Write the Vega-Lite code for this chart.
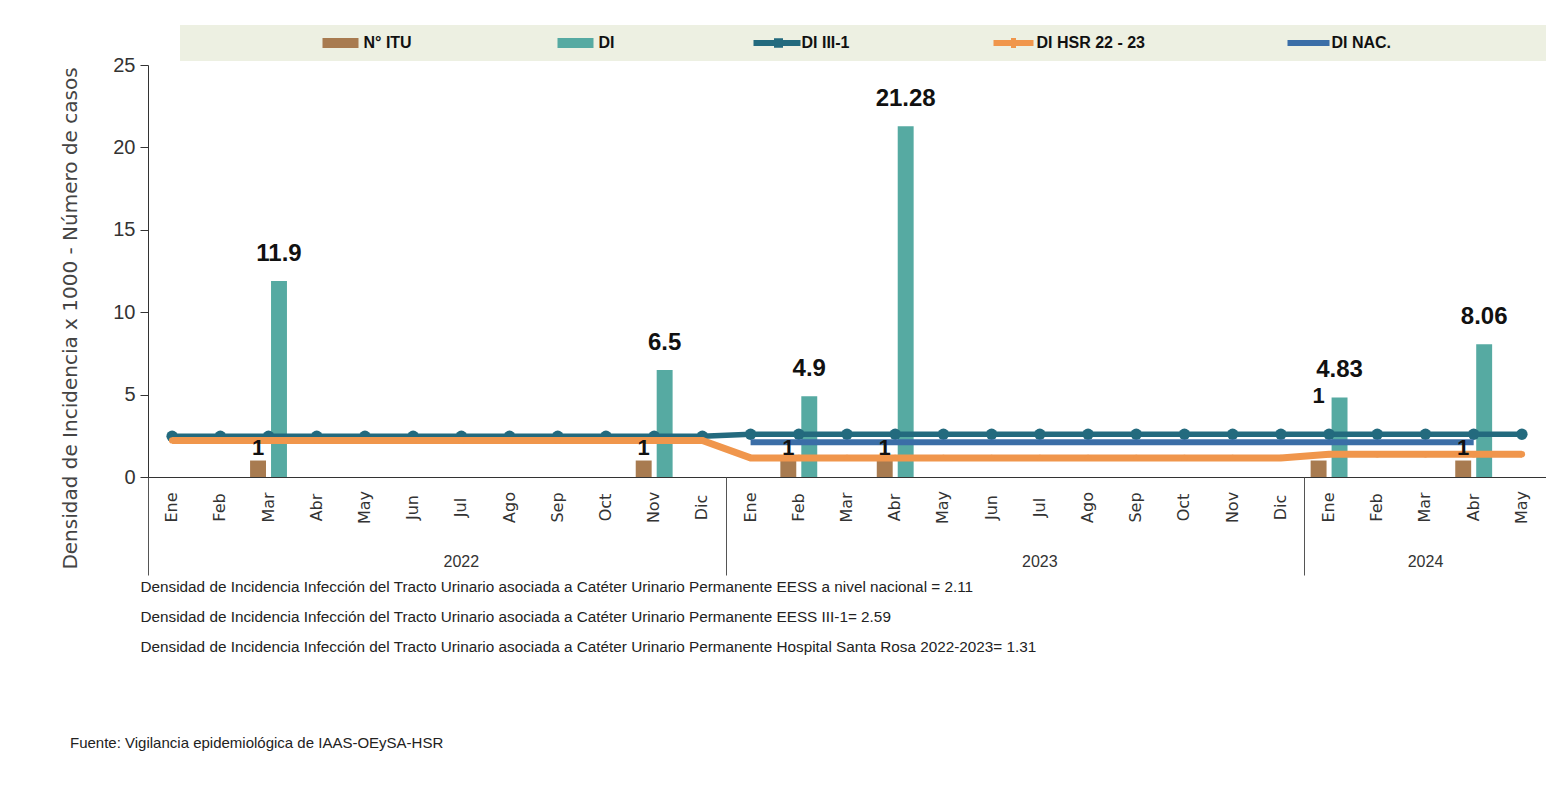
{
  "$schema": "https://vega.github.io/schema/vega-lite/v6.json",
  "width": 1398,
  "height": 412,
  "autosize": {"type": "none"},
  "padding": {"left": 148, "top": 65, "right": 0, "bottom": 312},
  "background": "white",
  "title": {
    "text": "Fuente: Vigilancia epidemiológica de IAAS-OEySA-HSR",
    "orient": "bottom", "anchor": "start", "frame": "group", "dx": -78, "offset": 82,
    "font": "Liberation Sans Narrow, Arial Narrow, Liberation Sans, sans-serif",
    "fontSize": 15, "fontWeight": "normal", "color": "#222"
  },
  "data": {
    "values": [
      {"mes": "Ene 2022", "serie": "DI III-1", "valor": 2.47},
      {"mes": "Feb 2022", "serie": "DI III-1", "valor": 2.47},
      {"mes": "Mar 2022", "serie": "DI III-1", "valor": 2.47},
      {"mes": "Abr 2022", "serie": "DI III-1", "valor": 2.47},
      {"mes": "May 2022", "serie": "DI III-1", "valor": 2.47},
      {"mes": "Jun 2022", "serie": "DI III-1", "valor": 2.47},
      {"mes": "Jul 2022", "serie": "DI III-1", "valor": 2.47},
      {"mes": "Ago 2022", "serie": "DI III-1", "valor": 2.47},
      {"mes": "Sep 2022", "serie": "DI III-1", "valor": 2.47},
      {"mes": "Oct 2022", "serie": "DI III-1", "valor": 2.47},
      {"mes": "Nov 2022", "serie": "DI III-1", "valor": 2.47},
      {"mes": "Dic 2022", "serie": "DI III-1", "valor": 2.47},
      {"mes": "Ene 2023", "serie": "DI III-1", "valor": 2.59},
      {"mes": "Feb 2023", "serie": "DI III-1", "valor": 2.59},
      {"mes": "Mar 2023", "serie": "DI III-1", "valor": 2.59},
      {"mes": "Abr 2023", "serie": "DI III-1", "valor": 2.59},
      {"mes": "May 2023", "serie": "DI III-1", "valor": 2.59},
      {"mes": "Jun 2023", "serie": "DI III-1", "valor": 2.59},
      {"mes": "Jul 2023", "serie": "DI III-1", "valor": 2.59},
      {"mes": "Ago 2023", "serie": "DI III-1", "valor": 2.59},
      {"mes": "Sep 2023", "serie": "DI III-1", "valor": 2.59},
      {"mes": "Oct 2023", "serie": "DI III-1", "valor": 2.59},
      {"mes": "Nov 2023", "serie": "DI III-1", "valor": 2.59},
      {"mes": "Dic 2023", "serie": "DI III-1", "valor": 2.59},
      {"mes": "Ene 2024", "serie": "DI III-1", "valor": 2.59},
      {"mes": "Feb 2024", "serie": "DI III-1", "valor": 2.59},
      {"mes": "Mar 2024", "serie": "DI III-1", "valor": 2.59},
      {"mes": "Abr 2024", "serie": "DI III-1", "valor": 2.59},
      {"mes": "May 2024", "serie": "DI III-1", "valor": 2.59},
      {"mes": "Ene 2022", "serie": "DI HSR 22 - 23", "valor": 2.22},
      {"mes": "Feb 2022", "serie": "DI HSR 22 - 23", "valor": 2.22},
      {"mes": "Mar 2022", "serie": "DI HSR 22 - 23", "valor": 2.22},
      {"mes": "Abr 2022", "serie": "DI HSR 22 - 23", "valor": 2.22},
      {"mes": "May 2022", "serie": "DI HSR 22 - 23", "valor": 2.22},
      {"mes": "Jun 2022", "serie": "DI HSR 22 - 23", "valor": 2.22},
      {"mes": "Jul 2022", "serie": "DI HSR 22 - 23", "valor": 2.22},
      {"mes": "Ago 2022", "serie": "DI HSR 22 - 23", "valor": 2.22},
      {"mes": "Sep 2022", "serie": "DI HSR 22 - 23", "valor": 2.22},
      {"mes": "Oct 2022", "serie": "DI HSR 22 - 23", "valor": 2.22},
      {"mes": "Nov 2022", "serie": "DI HSR 22 - 23", "valor": 2.22},
      {"mes": "Dic 2022", "serie": "DI HSR 22 - 23", "valor": 2.22},
      {"mes": "Ene 2023", "serie": "DI HSR 22 - 23", "valor": 1.16},
      {"mes": "Feb 2023", "serie": "DI HSR 22 - 23", "valor": 1.16},
      {"mes": "Mar 2023", "serie": "DI HSR 22 - 23", "valor": 1.16},
      {"mes": "Abr 2023", "serie": "DI HSR 22 - 23", "valor": 1.16},
      {"mes": "May 2023", "serie": "DI HSR 22 - 23", "valor": 1.16},
      {"mes": "Jun 2023", "serie": "DI HSR 22 - 23", "valor": 1.16},
      {"mes": "Jul 2023", "serie": "DI HSR 22 - 23", "valor": 1.16},
      {"mes": "Ago 2023", "serie": "DI HSR 22 - 23", "valor": 1.16},
      {"mes": "Sep 2023", "serie": "DI HSR 22 - 23", "valor": 1.16},
      {"mes": "Oct 2023", "serie": "DI HSR 22 - 23", "valor": 1.16},
      {"mes": "Nov 2023", "serie": "DI HSR 22 - 23", "valor": 1.16},
      {"mes": "Dic 2023", "serie": "DI HSR 22 - 23", "valor": 1.16},
      {"mes": "Ene 2024", "serie": "DI HSR 22 - 23", "valor": 1.38},
      {"mes": "Feb 2024", "serie": "DI HSR 22 - 23", "valor": 1.38},
      {"mes": "Mar 2024", "serie": "DI HSR 22 - 23", "valor": 1.38},
      {"mes": "Abr 2024", "serie": "DI HSR 22 - 23", "valor": 1.38},
      {"mes": "May 2024", "serie": "DI HSR 22 - 23", "valor": 1.38},
      {"mes": "Ene 2023", "serie": "DI NAC.", "valor": 2.11},
      {"mes": "Feb 2023", "serie": "DI NAC.", "valor": 2.11},
      {"mes": "Mar 2023", "serie": "DI NAC.", "valor": 2.11},
      {"mes": "Abr 2023", "serie": "DI NAC.", "valor": 2.11},
      {"mes": "May 2023", "serie": "DI NAC.", "valor": 2.11},
      {"mes": "Jun 2023", "serie": "DI NAC.", "valor": 2.11},
      {"mes": "Jul 2023", "serie": "DI NAC.", "valor": 2.11},
      {"mes": "Ago 2023", "serie": "DI NAC.", "valor": 2.11},
      {"mes": "Sep 2023", "serie": "DI NAC.", "valor": 2.11},
      {"mes": "Oct 2023", "serie": "DI NAC.", "valor": 2.11},
      {"mes": "Nov 2023", "serie": "DI NAC.", "valor": 2.11},
      {"mes": "Dic 2023", "serie": "DI NAC.", "valor": 2.11},
      {"mes": "Ene 2024", "serie": "DI NAC.", "valor": 2.11},
      {"mes": "Feb 2024", "serie": "DI NAC.", "valor": 2.11},
      {"mes": "Mar 2024", "serie": "DI NAC.", "valor": 2.11},
      {"mes": "Abr 2024", "serie": "DI NAC.", "valor": 2.11},
      {"mes": "Mar 2022", "serie": "N° ITU", "valor": 1},
      {"mes": "Nov 2022", "serie": "N° ITU", "valor": 1},
      {"mes": "Feb 2023", "serie": "N° ITU", "valor": 1},
      {"mes": "Abr 2023", "serie": "N° ITU", "valor": 1},
      {"mes": "Ene 2024", "serie": "N° ITU", "valor": 1},
      {"mes": "Abr 2024", "serie": "N° ITU", "valor": 1},
      {"mes": "Mar 2022", "serie": "DI", "valor": 11.9},
      {"mes": "Nov 2022", "serie": "DI", "valor": 6.5},
      {"mes": "Feb 2023", "serie": "DI", "valor": 4.9},
      {"mes": "Abr 2023", "serie": "DI", "valor": 21.28},
      {"mes": "Ene 2024", "serie": "DI", "valor": 4.83},
      {"mes": "Abr 2024", "serie": "DI", "valor": 8.06}
    ]
  },
  "encoding": {
    "x": {
      "field": "mes", "type": "nominal", "sort": null,
      "scale": {"domain": ["Ene 2022","Feb 2022","Mar 2022","Abr 2022","May 2022","Jun 2022","Jul 2022","Ago 2022","Sep 2022","Oct 2022","Nov 2022","Dic 2022","Ene 2023","Feb 2023","Mar 2023","Abr 2023","May 2023","Jun 2023","Jul 2023","Ago 2023","Sep 2023","Oct 2023","Nov 2023","Dic 2023","Ene 2024","Feb 2024","Mar 2024","Abr 2024","May 2024"], "paddingInner": 0, "paddingOuter": 0},
      "axis": {
        "title": null, "labelExpr": "split(datum.label, ' ')[0]",
        "labelAngle": -90, "labelAlign": "center", "labelBaseline": "middle", "labelPadding": 30,
        "ticks": false, "tickSize": 0, "domainColor": "#333", "domainWidth": 1,
        "labelFont": "DejaVu Sans", "labelFontSize": 16, "labelColor": "#333", "grid": false
      }
    },
    "y": {
      "field": "valor", "type": "quantitative",
      "scale": {"domain": [0, 25], "nice": false},
      "axis": {
        "values": [0, 5, 10, 15, 20, 25], "grid": false,
        "title": "Densidad de Incidencia x 1000 - Número de casos",
        "titleX": -78, "titleY": 253, "titleBaseline": "middle", "titleAlign": "center",
        "titleFont": "DejaVu Sans", "titleFontSize": 20, "titleFontWeight": "normal", "titleColor": "#444",
        "labelFont": "Liberation Sans Narrow, Liberation Sans, sans-serif",
        "labelFontSize": 20, "labelColor": "#333", "labelPadding": 5,
        "tickSize": 8, "tickColor": "#333", "domainColor": "#333"
      }
    },
    "color": {
      "field": "serie", "type": "nominal",
      "scale": {
        "domain": ["N° ITU", "DI", "DI III-1", "DI HSR 22 - 23", "DI NAC."],
        "range": ["#A87B50", "#56AAA2", "#236A7E", "#F0964C", "#3B6EA7"]
      },
      "legend": {
        "orient": "none", "legendX": 32, "legendY": -40, "direction": "horizontal",
        "fillColor": "#EDF0E2", "padding": 10,
        "title": "\u00a0", "titleOrient": "left", "titlePadding": 125, "titleFontSize": 10,
        "symbolSize": 100, "symbolOffset": 17.5, "labelOffset": 15, "columnPadding": 138,
        "symbolOpacity": 1, "symbolStrokeWidth": 0, "labelLimit": 400,
        "labelFont": "Liberation Sans Narrow, Arial Narrow, Liberation Sans, sans-serif",
        "labelFontSize": 16, "labelFontWeight": "bold", "labelColor": "#111",
        "labelExpr": "datum.label == 'DI NAC.' ? pad(datum.label, 19, '\u2800') : datum.label"
      }
    }
  },
  "layer": [
    {
      "mark": {"type": "point", "filled": true, "opacity": 0},
      "encoding": {
        "x": {
          "field": "mes", "type": "nominal", "sort": null, "axis": null,
          "scale": {"domain": ["Ene 2022","Feb 2022","Mar 2022","Abr 2022","May 2022","Jun 2022","Jul 2022","Ago 2022","Sep 2022","Oct 2022","Nov 2022","Dic 2022","Ene 2023","Feb 2023","Mar 2023","Abr 2023","May 2023","Jun 2023","Jul 2023","Ago 2023","Sep 2023","Oct 2023","Nov 2023","Dic 2023","Ene 2024","Feb 2024","Mar 2024","Abr 2024","May 2024"], "paddingInner": 0, "paddingOuter": 0}
        },
        "shape": {
          "field": "serie", "type": "nominal",
          "scale": {
            "domain": ["N° ITU", "DI", "DI III-1", "DI HSR 22 - 23", "DI NAC."],
            "range": [
              "M-3.6,-1L3.6,-1L3.6,1L-3.6,1Z",
              "M-3.6,-1L3.6,-1L3.6,1L-3.6,1Z",
              "M-5,-0.6L-0.9,-0.6L-0.9,-0.95L0.9,-0.95L0.9,-0.6L4.4,-0.6L4.4,0.6L0.9,0.6L0.9,0.95L-0.9,0.95L-0.9,0.6L-5,0.6Z",
              "M-4,-0.6L-0.5,-0.6L-0.5,-1L0.5,-1L0.5,-0.6L4,-0.6L4,0.6L0.5,0.6L0.5,1L-0.5,1L-0.5,0.6L-4,0.6Z",
              "M-4.2,-0.6L4.2,-0.6L4.2,0.6L-4.2,0.6Z"
            ]
          },
          "legend": {
            "orient": "none", "legendX": 32, "legendY": -40, "direction": "horizontal",
            "fillColor": "#EDF0E2", "padding": 10,
            "title": "\u00a0", "titleOrient": "left", "titlePadding": 125, "titleFontSize": 10,
            "symbolSize": 100, "symbolOffset": 17.5, "labelOffset": 15, "columnPadding": 138,
            "symbolOpacity": 1, "symbolStrokeWidth": 0, "labelLimit": 400,
            "labelFont": "Liberation Sans Narrow, Arial Narrow, Liberation Sans, sans-serif",
            "labelFontSize": 16, "labelFontWeight": "bold", "labelColor": "#111",
            "labelExpr": "datum.label == 'DI NAC.' ? pad(datum.label, 19, '\u2800') : datum.label"
          }
        }
      }
    },
    {
      "transform": [{"filter": "datum.serie == 'N° ITU' || datum.serie == 'DI'"}],
      "mark": {"type": "bar"},
      "encoding": {
        "xOffset": {"field": "serie", "type": "nominal", "scale": {"domain": ["N° ITU", "DI"], "paddingInner": 0.24, "paddingOuter": 0.27}}
      }
    },
    {
      "transform": [{"filter": "datum.serie == 'DI III-1'"}],
      "mark": {"type": "line", "strokeWidth": 5.5, "point": {"filled": true, "size": 130}},
      "encoding": {
        "x": {
          "field": "mes", "type": "nominal", "sort": null,
          "scale": {"domain": ["Ene 2022","Feb 2022","Mar 2022","Abr 2022","May 2022","Jun 2022","Jul 2022","Ago 2022","Sep 2022","Oct 2022","Nov 2022","Dic 2022","Ene 2023","Feb 2023","Mar 2023","Abr 2023","May 2023","Jun 2023","Jul 2023","Ago 2023","Sep 2023","Oct 2023","Nov 2023","Dic 2023","Ene 2024","Feb 2024","Mar 2024","Abr 2024","May 2024"], "paddingInner": 0, "paddingOuter": 0},
          "axis": {
            "orient": "bottom", "title": null, "values": ["Jul 2022", "Jul 2023"], "bandPosition": 0,
            "labelExpr": "split(datum.label, ' ')[1]", "labelAngle": 0, "labelAlign": "center", "labelBaseline": "top",
            "ticks": false, "tickSize": 0, "domain": false, "grid": false, "labelPadding": 76,
            "labelFont": "Liberation Sans Narrow, Arial Narrow, Liberation Sans, sans-serif",
            "labelFontSize": 16, "labelColor": "#333"
          }
        }
      }
    },
    {
      "transform": [{"filter": "datum.serie == 'DI NAC.'"}],
      "mark": {"type": "line", "strokeWidth": 6},
      "encoding": {
        "x": {
          "field": "mes", "type": "nominal", "sort": null,
          "scale": {"domain": ["Ene 2022","Feb 2022","Mar 2022","Abr 2022","May 2022","Jun 2022","Jul 2022","Ago 2022","Sep 2022","Oct 2022","Nov 2022","Dic 2022","Ene 2023","Feb 2023","Mar 2023","Abr 2023","May 2023","Jun 2023","Jul 2023","Ago 2023","Sep 2023","Oct 2023","Nov 2023","Dic 2023","Ene 2024","Feb 2024","Mar 2024","Abr 2024","May 2024"], "paddingInner": 0, "paddingOuter": 0},
          "axis": {
            "orient": "bottom", "title": null, "values": ["Mar 2024"], "bandPosition": 0.5,
            "labelExpr": "split(datum.label, ' ')[1]", "labelAngle": 0, "labelAlign": "center", "labelBaseline": "top",
            "ticks": false, "tickSize": 0, "domain": false, "grid": false, "labelPadding": 76,
            "labelFont": "Liberation Sans Narrow, Arial Narrow, Liberation Sans, sans-serif",
            "labelFontSize": 16, "labelColor": "#333"
          }
        }
      }
    },
    {
      "transform": [{"filter": "datum.serie == 'DI HSR 22 - 23'"}],
      "mark": {"type": "line", "strokeWidth": 7, "point": {"filled": true, "size": 40}},
      "encoding": {
        "x": {
          "field": "mes", "type": "nominal", "sort": null,
          "scale": {"domain": ["Ene 2022","Feb 2022","Mar 2022","Abr 2022","May 2022","Jun 2022","Jul 2022","Ago 2022","Sep 2022","Oct 2022","Nov 2022","Dic 2022","Ene 2023","Feb 2023","Mar 2023","Abr 2023","May 2023","Jun 2023","Jul 2023","Ago 2023","Sep 2023","Oct 2023","Nov 2023","Dic 2023","Ene 2024","Feb 2024","Mar 2024","Abr 2024","May 2024"], "paddingInner": 0, "paddingOuter": 0},
          "axis": {
            "orient": "bottom", "values": ["Ene 2022", "Ene 2023", "Ene 2024"], "bandPosition": 0,
            "labels": false, "domain": false, "grid": false,
            "ticks": true, "tickSize": 98, "tickColor": "#555", "tickWidth": 1,
            "title": [
              "Densidad de Incidencia Infección del  Tracto Urinario asociada a Catéter Urinario Permanente  EESS a nivel nacional = 2.11",
              "Densidad de Incidencia Infección del  Tracto Urinario asociada a Catéter Urinario Permanente  EESS III-1= 2.59",
              "Densidad de Incidencia Infección del  Tracto Urinario asociada a Catéter Urinario Permanente  Hospital Santa Rosa 2022-2023=  1.31"
            ],
            "titleX": -8, "titleY": 102, "titleAlign": "left", "titleBaseline": "top", "titleAngle": 0,
            "titleLineHeight": 30,
            "titleFont": "Liberation Sans Narrow, Arial Narrow, Liberation Sans, sans-serif",
            "titleFontSize": 15.3, "titleFontWeight": "normal", "titleColor": "#222"
          }
        }
      }
    },
    {
      "transform": [{"filter": "datum.serie == 'DI'"}],
      "mark": {"type": "text", "baseline": "bottom", "dy": -15, "fontSize": 24, "fontWeight": "bold",
               "font": "Liberation Sans Narrow, Arial Narrow, Liberation Sans, sans-serif"},
      "encoding": {
        "x": {
          "field": "mes", "type": "nominal", "sort": null, "axis": null,
          "scale": {"domain": ["Ene 2022","Feb 2022","Mar 2022","Abr 2022","May 2022","Jun 2022","Jul 2022","Ago 2022","Sep 2022","Oct 2022","Nov 2022","Dic 2022","Ene 2023","Feb 2023","Mar 2023","Abr 2023","May 2023","Jun 2023","Jul 2023","Ago 2023","Sep 2023","Oct 2023","Nov 2023","Dic 2023","Ene 2024","Feb 2024","Mar 2024","Abr 2024","May 2024"], "paddingInner": 0, "paddingOuter": 0}
        },
        "xOffset": {"field": "serie", "type": "nominal", "scale": {"domain": ["N° ITU", "DI"], "paddingInner": 0.24, "paddingOuter": 0.27}},
        "text": {"field": "valor", "type": "quantitative"},
        "color": {"value": "#111"}
      }
    },
    {
      "transform": [{"filter": "datum.serie == 'N° ITU' && datum.mes != 'Ene 2024'"}],
      "mark": {"type": "text", "baseline": "bottom", "dy": -1, "fontSize": 22, "fontWeight": "bold",
               "font": "Liberation Sans Narrow, Arial Narrow, Liberation Sans, sans-serif"},
      "encoding": {
        "x": {
          "field": "mes", "type": "nominal", "sort": null, "axis": null,
          "scale": {"domain": ["Ene 2022","Feb 2022","Mar 2022","Abr 2022","May 2022","Jun 2022","Jul 2022","Ago 2022","Sep 2022","Oct 2022","Nov 2022","Dic 2022","Ene 2023","Feb 2023","Mar 2023","Abr 2023","May 2023","Jun 2023","Jul 2023","Ago 2023","Sep 2023","Oct 2023","Nov 2023","Dic 2023","Ene 2024","Feb 2024","Mar 2024","Abr 2024","May 2024"], "paddingInner": 0, "paddingOuter": 0}
        },
        "xOffset": {"field": "serie", "type": "nominal", "scale": {"domain": ["N° ITU", "DI"], "paddingInner": 0.24, "paddingOuter": 0.27}},
        "text": {"field": "valor", "type": "quantitative"},
        "color": {"value": "#111"}
      }
    },
    {
      "transform": [{"filter": "datum.serie == 'N° ITU' && datum.mes == 'Ene 2024'"}],
      "mark": {"type": "text", "baseline": "bottom", "dy": -53, "fontSize": 22, "fontWeight": "bold",
               "font": "Liberation Sans Narrow, Arial Narrow, Liberation Sans, sans-serif"},
      "encoding": {
        "x": {
          "field": "mes", "type": "nominal", "sort": null, "axis": null,
          "scale": {"domain": ["Ene 2022","Feb 2022","Mar 2022","Abr 2022","May 2022","Jun 2022","Jul 2022","Ago 2022","Sep 2022","Oct 2022","Nov 2022","Dic 2022","Ene 2023","Feb 2023","Mar 2023","Abr 2023","May 2023","Jun 2023","Jul 2023","Ago 2023","Sep 2023","Oct 2023","Nov 2023","Dic 2023","Ene 2024","Feb 2024","Mar 2024","Abr 2024","May 2024"], "paddingInner": 0, "paddingOuter": 0}
        },
        "xOffset": {"field": "serie", "type": "nominal", "scale": {"domain": ["N° ITU", "DI"], "paddingInner": 0.24, "paddingOuter": 0.27}},
        "text": {"field": "valor", "type": "quantitative"},
        "color": {"value": "#111"}
      }
    }
  ],
  "resolve": {"axis": {"x": "independent"}},
  "config": {"view": {"stroke": null}}
}
